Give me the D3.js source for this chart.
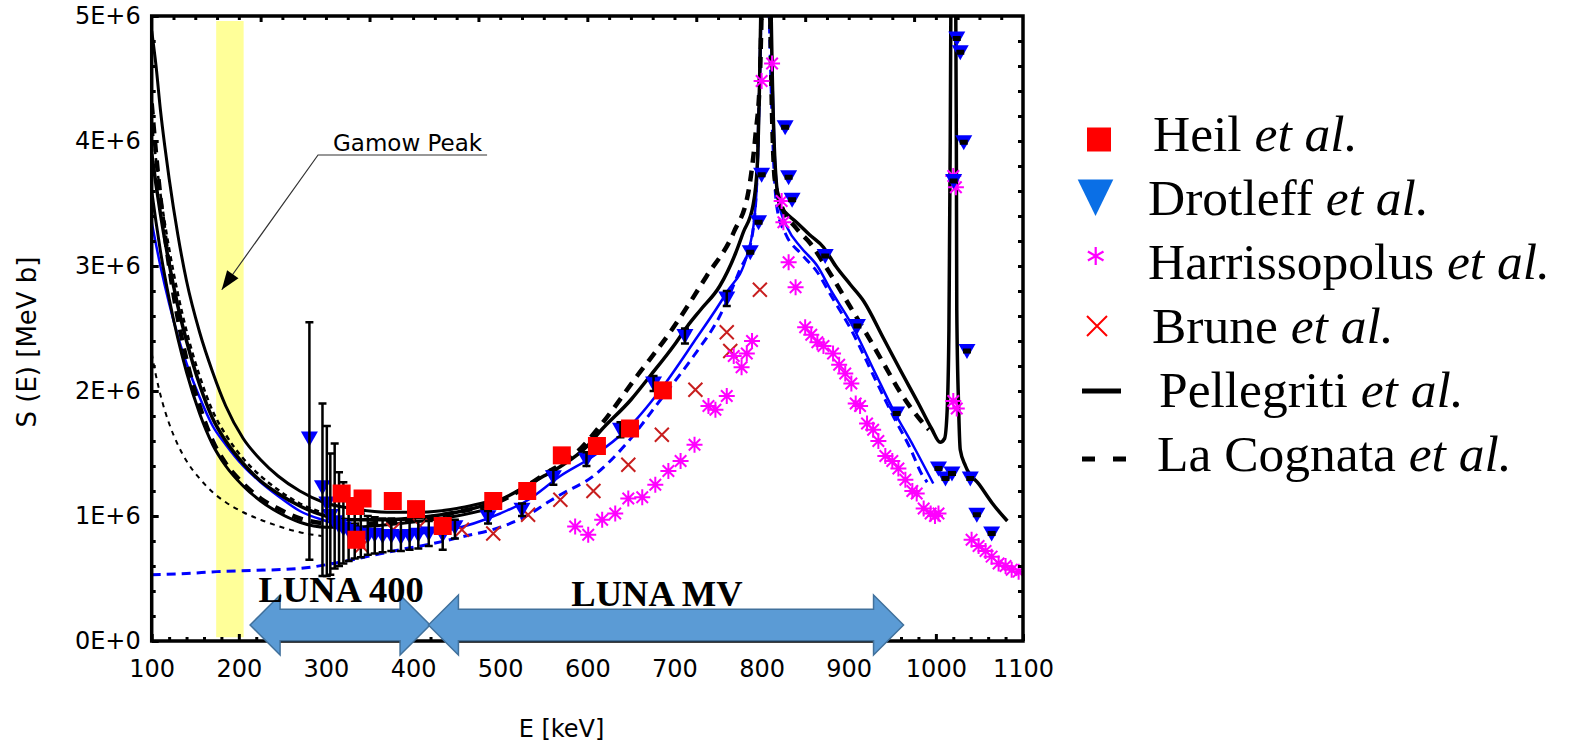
<!DOCTYPE html>
<html><head><meta charset="utf-8">
<script src="https://cdn.jsdelivr.net/npm/d3@7"></script>
<style>html,body{margin:0;padding:0;background:#fff;} svg{display:block;}</style>
</head><body>
<svg id="chart" width="1578" height="742"></svg>
<script>
// ---------------- DATA (S in units of 1E+6 MeV b, E in keV) ----------------
const xTickVals = [100,200,300,400,500,600,700,800,900,1000,1100];
const yTickVals = [0,1,2,3,4,5];
const yTickLabels = ["0E+0","1E+6","2E+6","3E+6","4E+6","5E+6"];

const gamowWindow = [174, 205.5];
const lunaNames = ["LUNA 400","LUNA MV"];
const lunaFrom = [212.9, 417.6];
const lunaTo = [419.5, 962.9];
const lunaLevel = 0.128;

// Heil et al. (red squares)
const heilE = [318,333.4,342,335,376.7,403.4,434,492,531,570.7,611,649,686.7];
const heilS = [1.18,1.08,1.14,0.81,1.12,1.055,0.92,1.12,1.20,1.485,1.56,1.70,2.005];

// Drotleff et al. (blue triangles with error bars)
const drotE = [281,296,301,305,310,315,320,326,333,340,
  348,356,365,375,386,396,406,418,434,448,
  486,525,561,599,638,676,712,760,787,796.5,
  800,827,831,835,873,910,955,1003,1011,1018.5,
  1020.4,1024,1028,1032,1035.7,1039.5,1047,1064];
const drotS = [1.62,1.23,1.10,1.00,0.95,0.92,0.90,0.88,0.86,0.85,
  0.84,0.85,0.84,0.84,0.83,0.84,0.85,0.86,0.85,0.91,
  0.99,1.05,1.31,1.45,1.69,2.06,2.44,2.74,3.11,3.35,
  3.73,4.11,3.71,3.53,3.08,2.52,1.82,1.38,1.30,1.34,
  3.68,4.82,4.71,3.99,2.32,1.30,1.01,0.86];
const drotLo = [0.65,0.52,0.52,0.53,0.58,0.60,0.62,0.64,0.66,0.67,
  0.69,0.70,0.71,0.72,0.72,0.73,0.74,0.76,0.73,0.82,
  0.94,1.00,1.25,1.40,1.63,2.00,2.38,2.68,3.10,3.34,
  3.72,4.10,3.70,3.52,3.07,2.51,1.81,1.37,1.29,1.33,
  3.67,4.81,4.70,3.98,2.31,1.29,1.00,0.85];
const drotHi = [2.55,1.90,1.72,1.50,1.58,1.35,1.27,1.12,1.05,1.02,
  1.00,0.99,0.98,0.98,0.97,0.96,0.96,0.96,0.93,0.97,
  1.04,1.10,1.37,1.51,1.75,2.12,2.50,2.80,3.12,3.36,
  3.74,4.12,3.72,3.54,3.09,2.53,1.83,1.39,1.31,1.35,
  3.69,4.83,4.72,4.00,2.33,1.31,1.02,0.87];

// Harrissopolus et al. (magenta asterisks)
const harE = [586,601,617,632,647,663,678,693,707,723,
  739,747,760,768,777,783,789,
  800,812,823,825,831,839,850,857,864,871,
  882,889,896,903,908,913,921,928,934,942,
  950,957,965,973,978,986,994,999,1003,
  1020,1023,1020,1024,
  1041,1049,1057,1064,1072,1080,1087,1095];
const harS = [0.916,0.85,0.97,1.02,1.14,1.15,1.25,1.36,1.44,1.57,
  1.88,1.85,1.96,2.28,2.19,2.30,2.40,
  4.48,4.62,3.52,3.35,3.03,2.83,2.51,2.45,2.39,2.36,
  2.30,2.21,2.14,2.06,1.90,1.88,1.74,1.69,1.60,1.48,
  1.44,1.38,1.29,1.20,1.18,1.06,1.02,1.00,1.02,
  3.72,3.63,1.92,1.86,
  0.81,0.76,0.72,0.675,0.62,0.60,0.57,0.555];

// Brune et al. (red crosses)
const bruE = [341,377,408,456,492,532,569,607,647,685.5,724,760,764,798];
const bruS = [0.76,0.89,0.92,0.89,0.86,1.01,1.13,1.20,1.41,1.65,2.01,2.47,2.32,2.81];

// Pellegriti et al. (solid black) - central curve
const pellE = [100,105,110,120,130,140,155,170,185,205,
  225,245,270,300,330,370,410,450,500,550,
  570,600,615,650,672,700,715,730,752,770,
  779,790,795,798,800,805,810,812,815.6,821,
  827,840,855,871,885,902,917,940,959,980,
  995,1005,1010,1013,1015,1016.5,1017.5,1020,1022.5,1023.5,
  1024,1026,1028,1034,1050,1065,1082];
const pellS = [3.9,3.65,3.42,3.02,2.68,2.40,2.05,1.78,1.60,1.42,
  1.28,1.18,1.08,1.00,0.97,0.97,0.99,1.03,1.13,1.32,
  1.40,1.56,1.68,1.93,2.12,2.37,2.52,2.65,2.84,3.1,
  3.27,3.48,3.8,4.6,5.4,6.5,5.4,4.6,3.8,3.48,
  3.43,3.35,3.25,3.15,3.0,2.85,2.72,2.42,2.17,1.9,
  1.7,1.59,1.62,1.85,2.5,4.0,5.5,7.0,5.5,4.0,
  2.65,1.9,1.53,1.40,1.25,1.10,0.96];
// Pellegriti upper / lower bounds
const pellUpE = [100,105,110,115,120,130,140,155,170,185,205,225,245,270,297,330,370,410,450,500];
const pellUpS = [4.88,4.60,4.25,3.96,3.70,3.25,2.88,2.47,2.15,1.88,1.62,1.45,1.32,1.20,1.11,1.06,1.03,1.03,1.06,1.14];
const pellLoE = [100,105,110,120,130,140,155,170,185,205,225,245,270,300,330,370,410,450,500];
const pellLoS = [3.6,3.35,3.12,2.74,2.42,2.15,1.82,1.57,1.40,1.24,1.12,1.03,0.95,0.91,0.91,0.93,0.96,1.0,1.08];

// La Cognata et al. (dashed black)
const lcE = [100,105,110,120,130,140,155,170,185,205,
  225,245,270,300,330,370,410,450,500,550,
  588,618,657,695,737,768,785,793,798,801,
  805,809,812,815,822,840,856,875,902,921,
  940,960,982,992];
const lcS = [4.3,3.9,3.55,3.0,2.58,2.25,1.88,1.6,1.42,1.26,
  1.14,1.06,0.98,0.94,0.93,0.95,0.98,1.03,1.12,1.33,
  1.51,1.75,2.12,2.47,2.92,3.27,3.6,4.05,4.5,5.3,
  6.0,5.3,4.2,3.7,3.5,3.3,3.18,2.98,2.67,2.45,
  2.22,1.98,1.77,1.69];
// thinner dotted black curves
const dotUpE = [100,105,110,120,130,140,155,170,185,205,225,245,270,295];
const dotUpS = [4.15,3.85,3.58,3.14,2.78,2.48,2.12,1.84,1.65,1.46,1.32,1.21,1.10,1.03];
const dotLoE = [100,105,110,120,130,140,155,170,185,205,225,245,270,295];
const dotLoS = [2.3,2.12,1.97,1.74,1.57,1.44,1.30,1.19,1.11,1.03,0.97,0.92,0.87,0.84];

// blue curves
const blueE = [100,110,120,130,140,155,170,185,205,225,
  245,270,300,330,370,400,442,500,530,569,
  607,645,684,722,760,783,792,796,799,801,
  805,809,812,815,820,830,845,864,880,902,
  930,951,975,997];
const blueS = [3.35,3.0,2.7,2.44,2.22,1.95,1.72,1.57,1.40,1.27,
  1.16,1.04,0.96,0.90,0.87,0.86,0.89,1.02,1.12,1.32,
  1.48,1.69,2.01,2.39,2.79,3.08,3.4,3.9,4.8,5.5,
  6.0,5.5,4.6,3.9,3.5,3.3,3.15,3.0,2.8,2.55,
  2.15,1.85,1.55,1.26];
const blueDE = [100,140,175,220,270,308,347,385,423,460,
  500,530,557,569,607,645,684,722,752,775,
  788,794,797,800,804,808,811,814,818,828,
  845,864,880,902,930,951,970,985,990];
const blueDS = [0.53,0.54,0.555,0.565,0.58,0.62,0.675,0.73,0.78,0.84,
  0.91,1.0,1.12,1.17,1.32,1.58,1.93,2.28,2.6,2.97,
  3.2,3.6,4.3,5.2,6.0,5.2,4.4,3.8,3.45,3.25,
  3.1,2.95,2.76,2.5,2.1,1.8,1.55,1.32,1.27];

const legendNames = ["Heil","Drotleff","Harrissopolus","Brune","Pellegriti","La Cognata"];

// ---------------- DRAWING ----------------
const svg = d3.select("#chart");
const L = 151.7, R = 1023, T = 16, B = 641;
const x = d3.scaleLinear().domain([100,1100]).range([L,R]);
const y = d3.scaleLinear().domain([0,5]).range([B,T]);
const xTop = d3.scaleLinear().domain([0,800]).range([L,R]);
const zip = (a,b) => a.map((v,i)=>[v,b[i]]);
const FONT = "DejaVu Sans";

svg.append("defs").append("clipPath").attr("id","plotclip")
  .append("rect").attr("x",L).attr("y",T).attr("width",R-L).attr("height",B-T);

// Gamow window
svg.append("rect").attr("x",x(gamowWindow[0])).attr("width",x(gamowWindow[1])-x(gamowWindow[0]))
  .attr("y",y(4.96)).attr("height",y(0.03)-y(4.96)).attr("fill","#ffff99");

const plot = svg.append("g").attr("clip-path","url(#plotclip)");
const line = d3.line().x(d=>x(d[0])).y(d=>y(d[1])).curve(d3.curveMonotoneX);
function curve(E,S,color,w,dash){
  plot.append("path").datum(zip(E,S)).attr("d",line).attr("fill","none")
    .attr("stroke",color).attr("stroke-width",w).attr("stroke-dasharray",dash||null)
    .attr("stroke-linejoin","round");
}
curve(dotLoE,dotLoS,"#000",2,"5,5");
curve(blueDE,blueDS,"#0000ff",3,"9,6");
curve(blueE,blueS,"#0000ff",2.5);
curve(pellUpE,pellUpS,"#000",3);
curve(pellLoE,pellLoS,"#000",3);
curve(pellE,pellS,"#000",3.5);
curve(dotUpE,dotUpS,"#000",2.5,"5,4");
curve(lcE,lcS,"#000",4.5,"11,8");

// Brune crosses
plot.selectAll(".bru").data(zip(bruE,bruS)).enter().append("path")
  .attr("d",d=>{const cx=x(d[0]),cy=y(d[1]),r=7;return `M${cx-r},${cy-r}L${cx+r},${cy+r}M${cx-r},${cy+r}L${cx+r},${cy-r}`;})
  .attr("stroke","#c81e1e").attr("stroke-width",2).attr("fill","none");

// Harrissopolus asterisks
plot.selectAll(".har").data(zip(harE,harS)).enter().append("path")
  .attr("d",d=>{const cx=x(d[0]),cy=y(d[1]),r=8,a=r*0.72;
    return `M${cx},${cy-r}L${cx},${cy+r}M${cx-r},${cy}L${cx+r},${cy}M${cx-a},${cy-a}L${cx+a},${cy+a}M${cx-a},${cy+a}L${cx+a},${cy-a}`;})
  .attr("stroke","#ff00ff").attr("stroke-width",2).attr("fill","none");

// Drotleff triangles + error bars
const drot = drotE.map((e,i)=>({e, s:drotS[i], lo:drotLo[i], hi:drotHi[i]}));
plot.selectAll(".tri").data(drot).enter().append("path")
  .attr("d",d=>{const cx=x(d.e),cy=y(d.s);return `M${cx-8.5},${cy-7}L${cx+8.5},${cy-7}L${cx},${cy+8}Z`;})
  .attr("fill","#0000ff");
plot.selectAll(".eb").data(drot).enter().append("path")
  .attr("d",d=>{const cx=x(d.e),y1=y(d.lo),y2=y(d.hi),c=4;
    return `M${cx},${y1}L${cx},${y2}M${cx-c},${y1}L${cx+c},${y1}M${cx-c},${y2}L${cx+c},${y2}`;})
  .attr("stroke","#000").attr("stroke-width",2.5).attr("fill","none");

// Heil squares
plot.selectAll(".heil").data(zip(heilE,heilS)).enter().append("rect")
  .attr("x",d=>x(d[0])-9).attr("y",d=>y(d[1])-9).attr("width",18).attr("height",18).attr("fill","#ff0000");

// Axes ticks (inward)
function styleAxis(g){
  g.select(".domain").remove();
  g.selectAll("line").attr("stroke","#000").attr("stroke-width",3);
  g.attr("font-family",FONT).attr("font-size",24);
  g.selectAll("text").attr("fill","#000");
}
styleAxis(svg.append("g").attr("transform",`translate(0,${B})`)
  .call(d3.axisBottom(x).tickValues(xTickVals).tickSize(-7).tickPadding(19).tickFormat(d3.format("d"))));
styleAxis(svg.append("g").attr("transform",`translate(0,${B})`)
  .call(d3.axisBottom(x).tickValues(d3.range(120,1100,20).filter(v=>v%100)).tickSize(-4).tickFormat("")));
styleAxis(svg.append("g").attr("transform",`translate(${L},0)`)
  .call(d3.axisLeft(y).tickValues(yTickVals).tickSize(-7).tickPadding(11).tickFormat((d,i)=>yTickLabels[i])));
styleAxis(svg.append("g").attr("transform",`translate(${L},0)`)
  .call(d3.axisLeft(y).tickValues(d3.range(0.2,5,0.2).filter(v=>Math.abs(v-Math.round(v))>0.01)).tickSize(-4).tickFormat("")));
styleAxis(svg.append("g").attr("transform",`translate(${R},0)`)
  .call(d3.axisRight(y).tickValues(d3.range(0.2,5,0.2)).tickSize(-5).tickFormat("")));
styleAxis(svg.append("g").attr("transform",`translate(0,${T})`)
  .call(d3.axisTop(xTop).tickValues([100,200,300,400,500,600,700]).tickSize(-6).tickFormat("")));
styleAxis(svg.append("g").attr("transform",`translate(0,${T})`)
  .call(d3.axisTop(xTop).tickValues(d3.range(20,800,20).filter(v=>v%100)).tickSize(-4).tickFormat("")));

// frame
svg.append("rect").attr("x",L).attr("y",T).attr("width",R-L).attr("height",B-T)
  .attr("fill","none").attr("stroke","#000").attr("stroke-width",3.5);

// axis titles
svg.append("text").attr("transform",`translate(36,342) rotate(-90)`)
  .attr("text-anchor","middle").attr("font-family",FONT).attr("font-size",26).attr("fill","#000")
  .text("S (E) [MeV b]");
svg.append("text").attr("x",561.5).attr("y",736.5).attr("text-anchor","middle")
  .attr("font-family",FONT).attr("font-size",24).attr("fill","#000").text("E [keV]");

// Gamow annotation
const tip = [x(180.4), y(2.81)], elbow = [x(290.9), y(3.888)], endL = [x(484.9), y(3.888)];
svg.append("path").attr("d",`M${endL[0]},${endL[1]}L${elbow[0]},${elbow[1]}L${tip[0]},${tip[1]}`)
  .attr("fill","none").attr("stroke","#333").attr("stroke-width",1.2);
{
  const dx=tip[0]-elbow[0], dy=tip[1]-elbow[1], len=Math.hypot(dx,dy), ux=dx/len, uy=dy/len;
  const hl=19, hw=7, bx=tip[0]-ux*hl, by=tip[1]-uy*hl;
  svg.append("path").attr("d",`M${tip[0]},${tip[1]}L${bx-uy*hw},${by+ux*hw}L${bx+uy*hw},${by-ux*hw}Z`).attr("fill","#000");
}
svg.append("text").attr("x",elbow[0]+15).attr("y",elbow[1]-4).attr("font-family",FONT)
  .attr("font-size",23).attr("fill","#000").text("Gamow Peak");

// LUNA arrows
lunaNames.forEach((name,i)=>{
  const x0=x(lunaFrom[i]), x1=x(lunaTo[i]), yc=y(lunaLevel), hl=30, sh=15.8, hh=30;
  const d=`M${x0},${yc}L${x0+hl},${yc-hh}L${x0+hl},${yc-sh}L${x1-hl},${yc-sh}L${x1-hl},${yc-hh}L${x1},${yc}L${x1-hl},${yc+hh}L${x1-hl},${yc+sh}L${x0+hl},${yc+sh}L${x0+hl},${yc+hh}Z`;
  svg.append("path").attr("d",d).attr("fill","#5b9bd5").attr("stroke","#41719c").attr("stroke-width",1.5);
});
lunaNames.forEach((name,i)=>{
  const cx=(x(lunaFrom[i])+x(lunaTo[i]))/2 + (i===0?1:-9);
  svg.append("text").attr("x",cx).attr("y",i===0?601.5:605.5).attr("text-anchor","middle")
    .attr("font-family","Liberation Serif").attr("font-weight","bold").attr("font-size",36.5)
    .attr("fill","#000").text(name);
});

// Legend
const lg = svg.append("g");
const rowY = legendNames.map((n,i)=>151+i*64);
const textX = [1153,1148,1148,1152,1159,1157];
legendNames.forEach((n,i)=>{
  const t = lg.append("text").attr("x",textX[i]).attr("y",rowY[i]).attr("font-family","Liberation Serif")
    .attr("font-size",51.5).attr("fill","#000");
  t.append("tspan").text(n+" ");
  t.append("tspan").attr("font-style","italic").text("et al.");
});
// symbols
lg.append("rect").attr("x",1087).attr("y",127.5).attr("width",24).attr("height",24).attr("fill","#ff0000");
lg.append("path").attr("d",`M1077.7,179.5L1113.3,179.5L1095.5,216Z`).attr("fill","#0a6fe6");
{
  const cx=1095.7, cy=256, r=9;
  const a=r*Math.cos(Math.PI/6), b=r*Math.sin(Math.PI/6);
  lg.append("path").attr("d",`M${cx},${cy-r}L${cx},${cy+r}M${cx-a},${cy-b}L${cx+a},${cy+b}M${cx-a},${cy+b}L${cx+a},${cy-b}`)
    .attr("stroke","#ff00ff").attr("stroke-width",2.2).attr("fill","none");
}
lg.append("path").attr("d",`M1087,316L1107,336M1087,336L1107,316`).attr("stroke","#ff0000").attr("stroke-width",2).attr("fill","none");
lg.append("line").attr("x1",1082).attr("x2",1121).attr("y1",391).attr("y2",391).attr("stroke","#000").attr("stroke-width",5);
lg.append("line").attr("x1",1082).attr("x2",1127).attr("y1",459).attr("y2",459).attr("stroke","#000").attr("stroke-width",5).attr("stroke-dasharray","13,18");
</script>
</body></html>
